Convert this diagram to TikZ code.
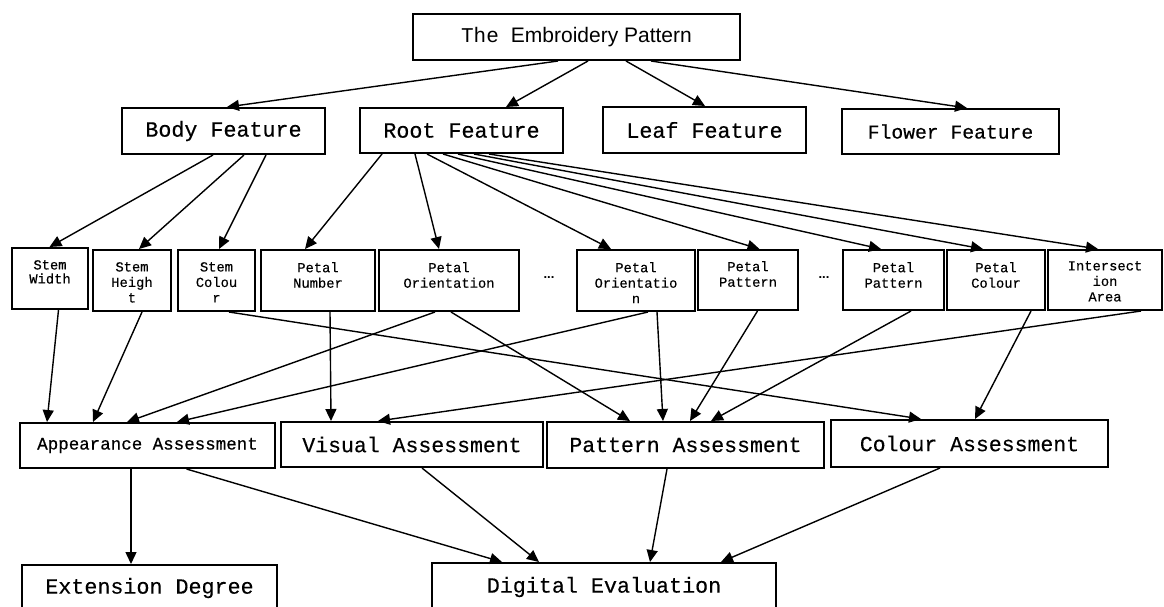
\documentclass[tikz,border=0pt]{standalone}
\usepackage{fontspec}
\setmonofont{Liberation Mono}
\newfontfamily\heavymono[FakeBold=0.5]{Liberation Mono}
\newfontfamily\lightmono[FakeBold=0.3]{Liberation Mono}
\setsansfont{Liberation Sans}
\usetikzlibrary{arrows.meta}
\begin{document}
\begin{tikzpicture}[x=1pt,y=-1pt,
  box/.style={draw, line width=2pt, inner sep=0pt},
  big/.style={font=\fontsize{21.7}{24}\heavymono},
  small/.style={font=\fontsize{13.8}{15.5}\lightmono, align=center, inner sep=0pt, anchor=north},
  arr/.style={-{Triangle[length=12pt,width=11pt]}, line width=1.4pt}]
\useasboundingbox (0,0) rectangle (1164,606);
\clip (0,0) rectangle (1164,606);

% root of the tree
\node[box, minimum width=327, minimum height=46, font=\fontsize{21}{24}\selectfont]
  (top) at (576.5,37) {{\ttfamily The}\hspace{12pt}{\sffamily Embroidery Pattern}};

% feature level
\node[box, big, minimum width=203, minimum height=46] (body) at (223.5,131) {Body Feature};
\node[box, big, minimum width=203, minimum height=45] (root) at (461.5,130.5) {Root Feature};
\node[box, big, minimum width=203, minimum height=46] (leaf) at (704.5,130) {Leaf Feature};
\node[box, minimum width=217, minimum height=45, font=\fontsize{19.7}{22}\heavymono] (flower) at (950.5,131.5) {Flower Feature};

% attribute level
\node[box, minimum width=76,  minimum height=61] (sw)  at (50,278.5) {};
\node[box, minimum width=78,  minimum height=61] (sh)  at (132,280.5) {};
\node[box, minimum width=77,  minimum height=61] (sc)  at (216.5,280.5) {};
\node[box, minimum width=114, minimum height=61] (pn)  at (318,280.5) {};
\node[box, minimum width=140, minimum height=61] (po)  at (449,280.5) {};
\node[box, minimum width=118, minimum height=61] (pon) at (636,280.5) {};
\node[box, minimum width=100, minimum height=60] (pp)  at (748,280) {};
\node[box, minimum width=101, minimum height=60] (pp2) at (893.5,280) {};
\node[box, minimum width=98,  minimum height=60] (pc)  at (996,280) {};
\node[box, minimum width=114, minimum height=60] (ia)  at (1105,280) {};

\node[small, font=\fontsize{13.8}{14}\heavymono] (swt) at ([yshift=-13pt]sw.north) {Stem\\Width};
\node[small] (sht)  at ([yshift=-13pt]sh.north)  {Stem\\Heigh\\t};
\node[small] (sct)  at ([yshift=-13pt]sc.north)  {Stem\\Colou\\r};
\node[small] (pnt)  at ([yshift=-13pt]pn.north)  {Petal\\Number};
\node[small] (pot)  at ([yshift=-13pt]po.north)  {Petal\\Orientation};
\node[small] (pont) at ([yshift=-13pt]pon.north) {Petal\\Orientatio\\n};
\node[small] (ppt)  at ([yshift=-12pt]pp.north)  {Petal\\Pattern};
\node[small] (pp2t) at ([yshift=-13pt]pp2.north) {Petal\\Pattern};
\node[small] (pct)  at ([yshift=-13pt]pc.north)  {Petal\\Colour};
\node[small] (iat)  at ([yshift=-12pt]ia.north)  {Intersect\\ion\\Area};
\node[font=\fontsize{13}{15}\sffamily\bfseries] (dotsa) at (549,278) {...};
\node[font=\fontsize{13}{15}\sffamily\bfseries] (dotsb) at (824,278) {...};

% assessment level
\node[box, minimum width=255, minimum height=45, font=\fontsize{17.5}{20}\heavymono] (app) at (147.5,445.5) {\raisebox{3pt}{Appearance Assessment}};
\node[box, minimum width=262, minimum height=45, font=\fontsize{21.5}{24}\lightmono] (vis) at (412,444.5) {Visual Assessment};
\node[box, minimum width=277, minimum height=46, font=\fontsize{21.5}{24}\lightmono] (pat) at (685.5,445) {Pattern Assessment};
\node[box, minimum width=277, minimum height=47, font=\fontsize{21.5}{24}\lightmono] (col) at (969.5,443.5) {Colour Assessment};

% results
\node[box, minimum width=255, minimum height=46, font=\fontsize{21.7}{24}\lightmono] (ext) at (149.5,588) {\raisebox{2pt}{Extension Degree}};
\node[box, minimum width=344, minimum height=48, font=\fontsize{21.7}{24}\lightmono] (dig) at (604,587) {\raisebox{4pt}{Digital Evaluation}};

% pattern -> features
\draw[arr] ([xshift=146pt]top.south west) -- ([xshift=106pt]body.north west);
\draw[arr] ([xshift=176pt]top.south west) -- ([xshift=147pt]root.north west);
\draw[arr] ([xshift=214pt]top.south west) -- ([xshift=103pt]leaf.north west);
\draw[arr] ([xshift=239pt]top.south west) -- ([xshift=126pt]flower.north west);

% body feature -> stem attributes
\draw[arr] ([xshift=92pt]body.south west)  -- ([xshift=38.5pt]sw.north west);
\draw[arr] ([xshift=123pt]body.south west) -- ([xshift=47pt]sh.north west);
\draw[arr] ([xshift=145pt]body.south west) -- ([xshift=42pt]sc.north west);

% root feature -> petal attributes
\draw[arr] ([xshift=23pt]root.south west)  -- ([xshift=45pt]pn.north west);
\draw[arr] ([xshift=56pt]root.south west)  -- ([xshift=61pt]po.north west);
\draw[arr] ([xshift=68pt]root.south west)  -- ([xshift=35pt]pon.north west);
\draw[arr] ([xshift=84pt]root.south west)  -- ([xshift=62.5pt]pp.north west);
\draw[arr] ([xshift=99pt]root.south west)  -- ([xshift=39pt]pp2.north west);
\draw[arr] ([xshift=115pt]root.south west) -- ([xshift=37pt]pc.north west);
\draw[arr] ([xshift=130pt]root.south west) -- ([xshift=51pt]ia.north west);

% attributes -> assessments
\draw[arr] ([xshift=47.5pt]sw.south west) -- ([xshift=28pt]app.north west);
\draw[arr] ([xshift=50pt]sh.south west)   -- ([xshift=74pt]app.north west);
\draw[arr] ([xshift=52pt]sc.south west)   -- ([xshift=91pt]col.north west);
\draw[arr] ([xshift=70pt]pn.south west)   -- ([xshift=51pt]vis.north west);
\draw[arr] ([xshift=57pt]po.south west)   -- ([xshift=108pt]app.north west);
\draw[arr] ([xshift=73pt]po.south west)   -- ([xshift=84pt]pat.north west);
\draw[arr] ([xshift=72pt]pon.south west)  -- ([xshift=158pt]app.north west);
\draw[arr] ([xshift=81pt]pon.south west)  -- ([xshift=117pt]pat.north west);
\draw[arr] ([xshift=60.5pt]pp.south west) -- ([xshift=144pt]pat.north west);
\draw[arr] ([xshift=69pt]pp2.south west)  -- ([xshift=165pt]pat.north west);
\draw[arr] ([xshift=85pt]pc.south west)   -- ([xshift=145pt]col.north west);
\draw[arr] ([xshift=94pt]ia.south west)   -- ([xshift=98pt]vis.north west);

% assessments -> results
\draw[arr] ([xshift=112pt]app.south west)   -- ([xshift=110pt]ext.north west);
\draw[arr] ([xshift=167.5pt]app.south west) -- ([xshift=71pt]dig.north west);
\draw[arr] ([xshift=142pt]vis.south west)   -- ([xshift=108pt]dig.north west);
\draw[arr] ([xshift=121pt]pat.south west)   -- ([xshift=219pt]dig.north west);
\draw[arr] ([xshift=110pt]col.south west)   -- ([xshift=290pt]dig.north west);
\end{tikzpicture}
\end{document}
